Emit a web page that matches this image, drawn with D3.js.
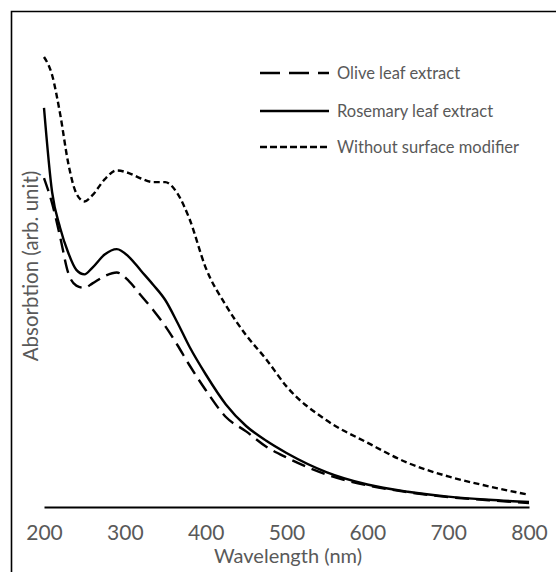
<!DOCTYPE html>
<html>
<head>
<meta charset="utf-8">
<script src="https://cdn.jsdelivr.net/npm/d3@7"></script>
<style>
  html, body { margin: 0; background: #fff; overflow: hidden; }
  svg { display: block; }
  text { font-family: Lato, "Open Sans", sans-serif; fill: #595959; }
</style>
</head>
<body>
<script>
// wavelengths (nm) shared by all three spectra
const wavelengths = [200, 210, 220, 230, 240, 250, 260, 275, 290, 305, 320, 335, 350, 365, 380,
  400, 425, 450, 475, 500, 550, 600, 650, 700, 750, 800]

const oliveLeaf = [0.731, 0.675, 0.600, 0.520, 0.492, 0.487, 0.497, 0.513, 0.521, 0.502, 0.470, 0.438, 0.402, 0.360, 0.315,
  0.260, 0.200, 0.168, 0.134, 0.110, 0.072, 0.048, 0.033, 0.022, 0.015, 0.009]
const rosemaryLeaf = [0.887, 0.700, 0.620, 0.565, 0.527, 0.517, 0.532, 0.561, 0.573, 0.556, 0.525, 0.494, 0.460, 0.410, 0.356,
  0.295, 0.228, 0.180, 0.147, 0.120, 0.077, 0.050, 0.034, 0.023, 0.016, 0.011]
const withoutModifier = [1.000, 0.960, 0.873, 0.764, 0.697, 0.679, 0.693, 0.728, 0.748, 0.742, 0.730, 0.722, 0.722, 0.697, 0.640,
  0.532, 0.448, 0.382, 0.328, 0.268, 0.192, 0.143, 0.098, 0.068, 0.046, 0.027]

const xTicks = [200, 300, 400, 500, 600, 700, 800]
const seriesNames = ['Olive leaf extract', 'Rosemary leaf extract', 'Without surface modifier']

const W = 556, H = 572

const svg = d3.select('body')
  .append('svg')
  .attr('width', W)
  .attr('height', H)

// outer frame: only the top and left edges show in the picture
svg.append('path')
  .attr('d', `M11.5,${H}V11.5H${W}`)
  .attr('fill', 'none')
  .attr('stroke', '#000')
  .attr('stroke-width', 1.6)

const x = d3.scaleLinear()
  .domain([200, 800])
  .range([44, 529])

const y = d3.scaleLinear()
  .domain([0, 1])
  .range([507, 57])

// x axis: baseline plus labels, no tick marks
const xAxis = svg.append('g')
  .attr('transform', `translate(0, ${y(0)})`)
  .call(d3.axisBottom(x).tickValues(xTicks).tickFormat(d3.format('d')).tickSize(0).tickPadding(18))
xAxis.select('.domain')
  .attr('stroke', '#000')
  .attr('stroke-width', 2.2)
xAxis.selectAll('text')
  .style('font-family', 'Lato, "Open Sans", sans-serif')
  .style('font-size', '21px')
  .attr('fill', '#595959')

svg.append('text')
  .attr('x', 288)
  .attr('y', 563)
  .attr('text-anchor', 'middle')
  .style('font-size', '20px')
  .text('Wavelength (nm)')

svg.append('text')
  .attr('transform', 'translate(38, 266) rotate(-90)')
  .attr('text-anchor', 'middle')
  .style('font-size', '20.5px')
  .text('Absorbtion (arb. unit)')

const series = [
  {name: seriesNames[0], values: oliveLeaf, dash: '14,7'},
  {name: seriesNames[1], values: rosemaryLeaf, dash: null},
  {name: seriesNames[2], values: withoutModifier, dash: '6,3.5'}
]

const line = d3.line()
  .x((d, i) => x(wavelengths[i]))
  .y(d => y(d))
  .curve(d3.curveMonotoneX)

svg.append('g')
  .selectAll('path')
  .data(series)
  .enter()
  .append('path')
  .attr('d', d => line(d.values))
  .attr('fill', 'none')
  .attr('stroke', '#000')
  .attr('stroke-width', 2.4)
  .attr('stroke-dasharray', d => d.dash)

// legend
const legendY = [73, 111, 147]
const legend = svg.append('g')
  .selectAll('g')
  .data(series)
  .enter()
  .append('g')
  .attr('transform', (d, i) => `translate(260, ${legendY[i]})`)

legend.append('line')
  .attr('x1', 0).attr('x2', 69)
  .attr('stroke', '#000')
  .attr('stroke-width', 2.4)
  .attr('stroke-dasharray', (d, i) => i === 0 ? '20,9' : (i === 2 ? '7,3' : null))

legend.append('text')
  .attr('x', 77)
  .attr('y', 6)
  .style('font-size', '16.5px')
  .text(d => d.name)
</script>
</body>
</html>
